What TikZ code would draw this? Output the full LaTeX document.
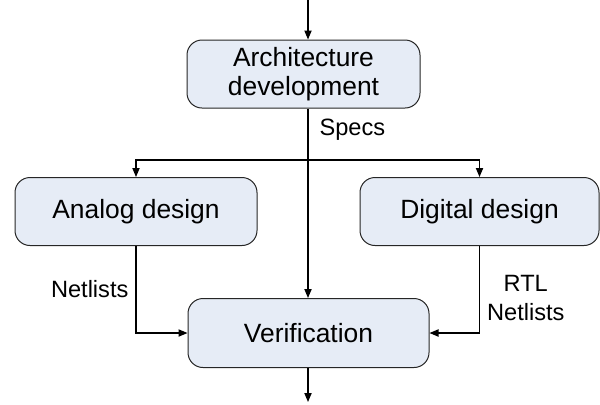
\documentclass[tikz,border=0pt]{standalone}
\usepackage{fontspec}
\setmainfont{Liberation Sans}
\usetikzlibrary{arrows.meta}
\definecolor{boxfill}{RGB}{230,236,246}

\begin{document}
\begin{tikzpicture}[x=0.5pt,y=-0.5pt,
  stage node/.style={draw=black!85,fill=boxfill,rounded corners=7.5pt,line width=0.5pt,
    align=center,inner sep=0pt,font=\fontsize{13.2}{14.7}\selectfont},
  label node/.style={align=center,inner sep=3.5pt,font=\fontsize{11.8}{14.5}\selectfont},
  flow/.style={line width=0.6pt,-{Triangle[length=4.5pt,width=3.6pt]}}]
  \useasboundingbox (0,0) rectangle (600,404);

  \node[stage node,minimum width=116.5pt,minimum height=34pt] (arch) at (303.5,74) {Architecture\\development};
  \node[stage node,minimum width=121pt,minimum height=34pt] (analog) at (136,211.5) {Analog design};
  \node[stage node,minimum width=119.5pt,minimum height=34pt] (digital) at (479.5,211.5) {Digital design};
  \node[stage node,minimum width=120.5pt,minimum height=34.5pt] (verif) at (308.5,333) {Verification};
  \coordinate (in) at (308,0);
  \coordinate (split) at (308,160);
  \coordinate (out) at (308,402);

  \draw[flow] (in) -- (in |- arch.north);
  \draw[line width=0.6pt] (split |- arch.south) -- node[label node,pos=0.42,right,xshift=2pt] {Specs} (split);
  \draw[flow] (split) -- (split |- verif.north);
  \draw[flow] (split) -| (analog.north);
  \draw[flow] (split) -| (digital.north);
  \draw[flow] (analog.south) |- node[label node,pos=0.25,left] {Netlists} (verif.west);
  \draw[flow] (digital.south) |- node[label node,pos=0.3,right] {RTL\\Netlists} (verif.east);
  \draw[flow] (split |- verif.south) -- (out);
\end{tikzpicture}
\end{document}
